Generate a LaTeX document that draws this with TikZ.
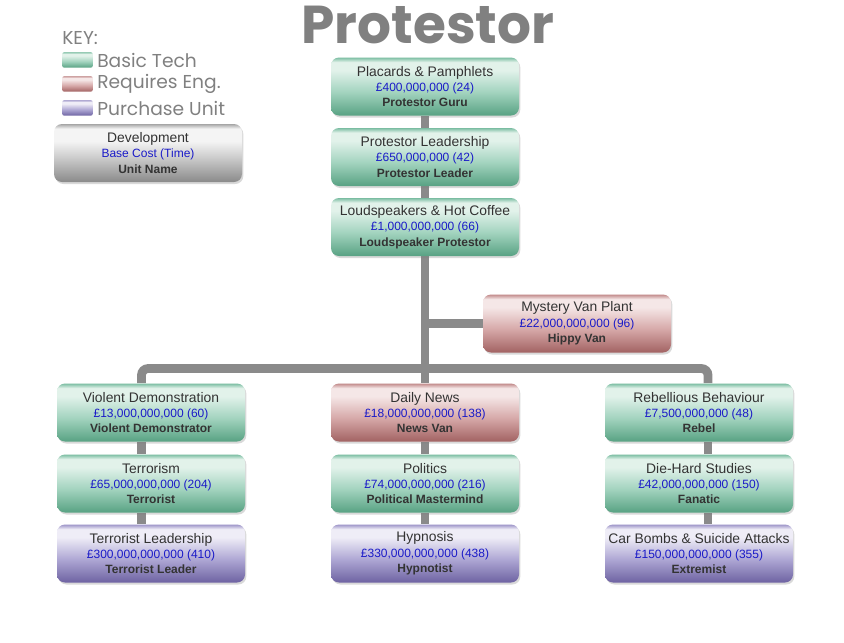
\documentclass[tikz,border=0pt]{standalone}
\usepackage{fontspec}
\setmainfont{Liberation Sans}
\newfontfamily\handfont{Poppins}
\usetikzlibrary{shadows,backgrounds}
\definecolor{conncol}{HTML}{8A8A8A}
\definecolor{txtcol}{HTML}{333333}
\definecolor{costcol}{HTML}{1A1AC8}
\definecolor{handcol}{HTML}{808080}
% green
\definecolor{gA}{HTML}{58A283}\definecolor{gB}{HTML}{A2D3BE}\definecolor{gC}{HTML}{E2F2EA}\definecolor{gD}{HTML}{7BBDA2}
% red
\definecolor{rA}{HTML}{A26262}\definecolor{rB}{HTML}{D6A8A8}\definecolor{rC}{HTML}{F5E7E7}\definecolor{rD}{HTML}{C28A8A}
% purple
\definecolor{pA}{HTML}{6E63A2}\definecolor{pB}{HTML}{AEA7D4}\definecolor{pC}{HTML}{EFEDF7}\definecolor{pD}{HTML}{9D94C8}
% gray
\definecolor{kA}{HTML}{8A8A8A}\definecolor{kB}{HTML}{C8C8C8}\definecolor{kC}{HTML}{F4F4F4}\definecolor{kD}{HTML}{A6A6A6}
\pgfdeclareverticalshading{gshade}{100bp}{color(0bp)=(gA); color(25bp)=(gA); color(45bp)=(gB); color(64bp)=(gC); color(71bp)=(gC); color(75bp)=(gD); color(100bp)=(gD)}
\pgfdeclareverticalshading{rshade}{100bp}{color(0bp)=(rA); color(25bp)=(rA); color(45bp)=(rB); color(64bp)=(rC); color(71bp)=(rC); color(75bp)=(rD); color(100bp)=(rD)}
\pgfdeclareverticalshading{pshade}{100bp}{color(0bp)=(pA); color(25bp)=(pA); color(45bp)=(pB); color(64bp)=(pC); color(71bp)=(pC); color(75bp)=(pD); color(100bp)=(pD)}
\pgfdeclareverticalshading{kshade}{100bp}{color(0bp)=(kA); color(25bp)=(kA); color(45bp)=(kB); color(60bp)=(kC); color(71bp)=(kC); color(75bp)=(kD); color(100bp)=(kD)}
\tikzset{
  box/.style={rounded corners=6pt, minimum width=141pt, minimum height=43.5pt,
    align=center, inner sep=0pt, text=txtcol,
    font=\fontsize{9}{11.6}\selectfont,
    drop shadow={shadow xshift=1pt, shadow yshift=-1.5pt, opacity=0.3}},
  techbox/.style={box, shading=gshade},
  engbox/.style={box, shading=rshade},
  unitbox/.style={box, shading=pshade},
  keybox/.style={box, shading=kshade},
  swatch/.style={rounded corners=1.5pt, minimum width=23pt, minimum height=11.5pt, inner sep=0pt},
  conn/.style={draw=conncol, line width=6.6pt},
  handtext/.style={anchor=west, inner sep=0pt, text=handcol, font=\handfont\fontsize{14}{16}\selectfont}
}
\newcommand{\tri}[3]{{\fontsize{10.4}{11.6}\selectfont #1}\\{\color{costcol}#2}\\\textbf{#3}}
\begin{document}
\begin{tikzpicture}[x=0.75pt,y=-0.75pt]
\useasboundingbox (0,0) rectangle (844,643);
\node[text=handcol, font=\handfont\bfseries\fontsize{40}{44}\selectfont, inner sep=0pt] (title) at (428,25) {Protestor};
% key
\node[handtext] (keyhead) at (62,38) {KEY:};
\node[swatch, shading=gshade] (sw1) at (77.5,60) {};
\node[swatch, shading=rshade] (sw2) at (77.5,84) {};
\node[swatch, shading=pshade] (sw3) at (77.5,108) {};
\node[handtext] (k1) at (97,60) {Basic Tech};
\node[handtext] (k2) at (97,84) {Requires Eng.};
\node[handtext] (k3) at (97,108) {Purchase Unit};
\node[keybox] (kbox) at (148,153) {\tri{Development}{Base Cost (Time)}{Unit Name}};
% main tree
\node[techbox] (plac) at (425,86.5) {\tri{Placards \& Pamphlets}{£400,000,000 (24)}{Protestor Guru}};
\node[techbox] (lead) at (425,157) {\tri{Protestor Leadership}{£650,000,000 (42)}{Protestor Leader}};
\node[techbox] (loud) at (425,227) {\tri{Loudspeakers \& Hot Coffee}{£1,000,000,000 (66)}{Loudspeaker Protestor}};
\node[engbox] (mv) at (577,323.5) {\tri{Mystery Van Plant}{£22,000,000,000 (96)}{Hippy Van}};
\node[techbox] (vd) at (151,412.5) {\tri{Violent Demonstration}{£13,000,000,000 (60)}{Violent Demonstrator}};
\node[techbox] (ter) at (151,483.5) {\tri{Terrorism}{£65,000,000,000 (204)}{Terrorist}};
\node[unitbox] (tl) at (151,553.5) {\tri{Terrorist Leadership}{£300,000,000,000 (410)}{Terrorist Leader}};
\node[engbox] (dn) at (425,412.5) {\tri{Daily News}{£18,000,000,000 (138)}{News Van}};
\node[techbox] (pol) at (425,483.5) {\tri{Politics}{£74,000,000,000 (216)}{Political Mastermind}};
\node[unitbox] (hyp) at (425,553.5) {\tri{Hypnosis}{£330,000,000,000 (438)}{Hypnotist}};
\node[techbox] (rb) at (699,412.5) {\tri{Rebellious Behaviour}{£7,500,000,000 (48)}{Rebel}};
\node[techbox] (dh) at (699,483.5) {\tri{Die-Hard Studies}{£42,000,000,000 (150)}{Fanatic}};
\node[unitbox] (cb) at (699,553.5) {\tri{Car Bombs \& Suicide Attacks}{£150,000,000,000 (355)}{Extremist}};
\coordinate (jl) at (141.5,368.5);
\coordinate (jr) at (708,368.5);
\begin{scope}[on background layer]
\draw[conn] (plac.south) -- (lead.north);
\draw[conn] (lead.south) -- (loud.north);
\draw[conn] (loud.south) -- (dn.north);
\draw[conn] (loud.south |- mv.west) -- (mv.west);
\draw[conn, rounded corners=5pt] (jl |- vd.north) -- (jl) -- (jr) -- (jr |- rb.north);
\draw[conn] (jl |- vd.south) -- (jl |- ter.north);
\draw[conn] (jl |- ter.south) -- (jl |- tl.north);
\draw[conn] (pol.north) -- (dn.south);
\draw[conn] (pol.south) -- (hyp.north);
\draw[conn] (jr |- rb.south) -- (jr |- dh.north);
\draw[conn] (jr |- dh.south) -- (jr |- cb.north);
\end{scope}
\end{tikzpicture}
\end{document}
